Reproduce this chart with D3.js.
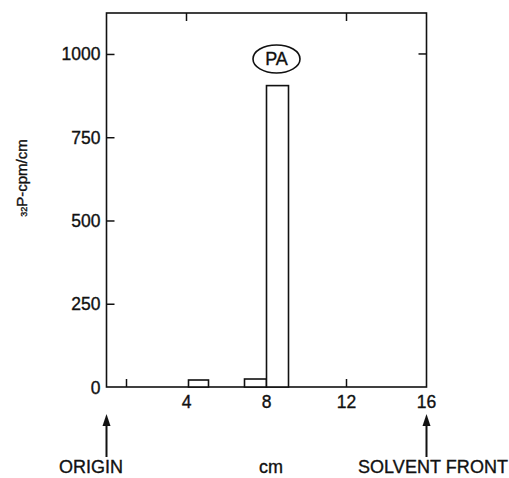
<!DOCTYPE html>
<html>
<head>
<meta charset="utf-8">
<script src="https://cdn.jsdelivr.net/npm/d3@7"></script>
<style>
  body { margin: 0; background: #fff; }
  text { font-family: "Liberation Sans", Arial, sans-serif; fill: #111; stroke: #111; stroke-width: 0.35px; }
</style>
</head>
<body>
<div id="chart"></div>
<script>
var svgWidth = 509;
var svgHeight = 478;

var margin = { top: 13, left: 106.5 };
var width = 320;
var height = 374;

// bars: start / end in cm and counts
var binStart = [4.1, 6.9, 8.0];
var binEnd = [5.1, 8.0, 9.1];
var counts = [21, 24, 905];

var yTicks = [0, 250, 500, 750, 1000];
var xTickLabels = [4, 8, 12, 16];
var bottomMinor = [1, 12];
var topMinor = [4, 12];

var svg = d3.select("#chart")
  .append("svg")
  .attr("width", svgWidth)
  .attr("height", svgHeight);

var chartGroup = svg.append("g")
  .attr("transform", `translate(${margin.left}, ${margin.top})`);

var xScale = d3.scaleLinear().domain([0, 16]).range([0, width]);
var yScale = d3.scaleLinear().domain([0, 1123]).range([height, 0]);

// frame
chartGroup.append("rect")
  .attr("x", 0).attr("y", 0)
  .attr("width", width).attr("height", height)
  .attr("fill", "none")
  .attr("stroke", "#111")
  .attr("stroke-width", 1.6);

// left axis, ticks pointing inward
var leftAxis = d3.axisRight(yScale).tickValues(yTicks.slice(1)).tickSize(8).tickFormat("");
var leftG = chartGroup.append("g").call(leftAxis);
leftG.select(".domain").remove();
leftG.selectAll("line").attr("stroke", "#111").attr("stroke-width", 1.5);

chartGroup.selectAll("text.ylab")
  .data(yTicks)
  .enter()
  .append("text")
  .attr("class", "ylab")
  .attr("x", -6)
  .attr("y", d => yScale(d) + 6.5)
  .attr("text-anchor", "end")
  .attr("font-size", "17.5px")
  .text(d => d);

// right side tick at 1000
chartGroup.append("line")
  .attr("x1", width).attr("x2", width - 8)
  .attr("y1", yScale(1000)).attr("y2", yScale(1000))
  .attr("stroke", "#111").attr("stroke-width", 1.5);

// bottom minor ticks (upward)
chartGroup.selectAll("line.bt")
  .data(bottomMinor)
  .enter()
  .append("line")
  .attr("class", "bt")
  .attr("x1", d => xScale(d)).attr("x2", d => xScale(d))
  .attr("y1", height).attr("y2", height - 8)
  .attr("stroke", "#111").attr("stroke-width", 1.5);

// top minor ticks (downward)
chartGroup.selectAll("line.tt")
  .data(topMinor)
  .enter()
  .append("line")
  .attr("class", "tt")
  .attr("x1", d => xScale(d)).attr("x2", d => xScale(d))
  .attr("y1", 0).attr("y2", 8)
  .attr("stroke", "#111").attr("stroke-width", 1.5);

chartGroup.selectAll("text.xlab")
  .data(xTickLabels)
  .enter()
  .append("text")
  .attr("class", "xlab")
  .attr("x", d => xScale(d))
  .attr("y", height + 21)
  .attr("text-anchor", "middle")
  .attr("font-size", "17.5px")
  .text(d => d);

// bars
chartGroup.selectAll("rect.bar")
  .data(counts)
  .enter()
  .append("rect")
  .attr("class", "bar")
  .attr("x", (d, i) => xScale(binStart[i]))
  .attr("width", (d, i) => xScale(binEnd[i]) - xScale(binStart[i]))
  .attr("y", d => yScale(d))
  .attr("height", d => height - yScale(d))
  .attr("fill", "#fff")
  .attr("stroke", "#111")
  .attr("stroke-width", 1.6);

// PA label
var paX = xScale(8.5);
var paY = yScale(985);
chartGroup.append("ellipse")
  .attr("cx", paX).attr("cy", paY)
  .attr("rx", 23.5).attr("ry", 14)
  .attr("fill", "none").attr("stroke", "#111").attr("stroke-width", 1.6);
chartGroup.append("text")
  .attr("x", paX).attr("y", paY + 6.5)
  .attr("text-anchor", "middle")
  .attr("font-size", "18px")
  .text("PA");

// arrows below axis
var arrowX = [0, 16];
chartGroup.selectAll("line.arrow")
  .data(arrowX)
  .enter()
  .append("line")
  .attr("class", "arrow")
  .attr("x1", d => xScale(d)).attr("x2", d => xScale(d))
  .attr("y1", height + 34).attr("y2", height + 70)
  .attr("stroke", "#111").attr("stroke-width", 2);
chartGroup.selectAll("path.head")
  .data(arrowX)
  .enter()
  .append("path")
  .attr("class", "head")
  .attr("d", d => `M${xScale(d)},${height + 27} l-4,12 l8,0 z`)
  .attr("fill", "#111");

// bottom labels
svg.append("text")
  .attr("x", 123).attr("y", 473)
  .attr("text-anchor", "end")
  .attr("font-size", "18px")
  .text("ORIGIN");
svg.append("text")
  .attr("x", 271).attr("y", 473)
  .attr("text-anchor", "middle")
  .attr("font-size", "18px")
  .text("cm");
svg.append("text")
  .attr("x", 358).attr("y", 473)
  .attr("textLength", 150)
  .attr("font-size", "18px")
  .text("SOLVENT FRONT");

// y axis label
var yl = svg.append("text")
  .attr("transform", "translate(27, 178) rotate(-90)")
  .attr("text-anchor", "middle")
  .attr("font-size", "15px");
yl.append("tspan").attr("font-size", "9px").text("32");
yl.append("tspan").text("P-cpm/cm");
</script>
</body>
</html>
